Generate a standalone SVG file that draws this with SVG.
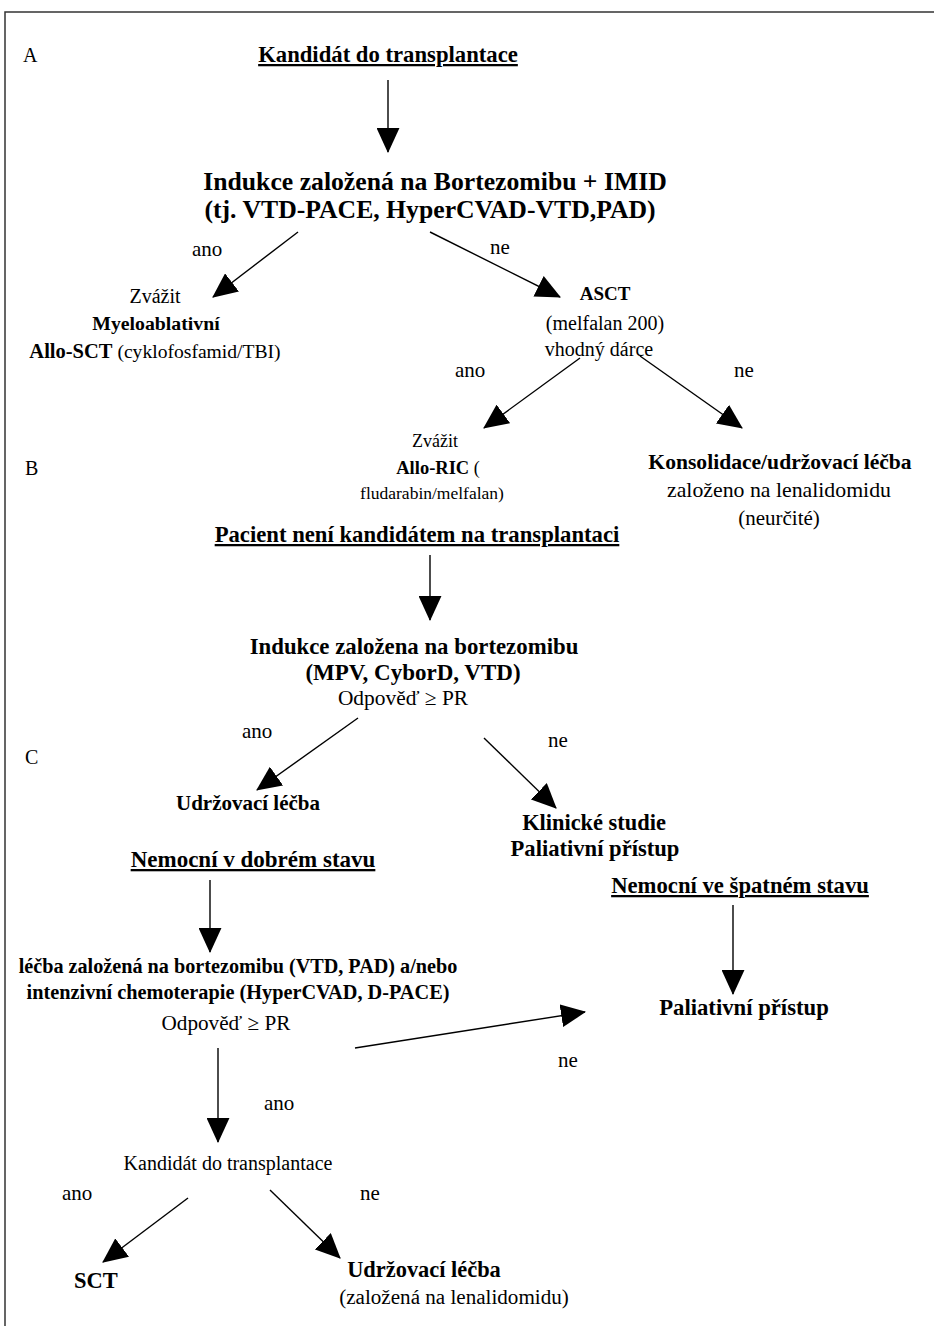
<svg xmlns="http://www.w3.org/2000/svg" width="934" height="1326" viewBox="0 0 934 1326">
<defs>
<marker id="ah" viewBox="0 0 24 22" markerWidth="25" markerHeight="23" refX="23" refY="11" orient="auto" markerUnits="userSpaceOnUse">
<path d="M0,0 L24,11 L0,22 z" fill="#000"/>
</marker>
<style>
text{font-family:"Liberation Serif","Times New Roman",serif;fill:#000;font-size:20px}
.b{font-weight:bold;font-size:21px}
.c{text-anchor:middle}
.u{text-decoration:underline}
.l{font-size:21px}
.ln{stroke:#000;stroke-width:1.4;fill:none;marker-end:url(#ah)}
</style>
</defs>
<rect width="934" height="1326" fill="#fff"/>
<path d="M5,1326 V12 H934" stroke="#333" stroke-width="1.5" fill="none"/>

<g id="labels">
<text x="23" y="62">A</text>
<text x="25" y="475">B</text>
<text x="25" y="764">C</text>
</g>

<g id="n1"><text class="b c u" x="388" y="62" style="font-size:22.7px">Kandidát do transplantace</text></g>
<g id="n2" style="font-size:25.7px">
<text class="b c" x="435" y="190" style="font-size:25.7px">Indukce založená na Bortezomibu + IMID</text>
<text class="b c" x="430" y="218" style="font-size:25.7px">(tj. VTD-PACE, HyperCVAD-VTD,PAD)</text>
</g>
<g id="n3">
<text class="c" x="155" y="303">Zvážit</text>
<text class="b c" x="156" y="330" style="font-size:19.8px">Myeloablativní</text>
<text class="c" x="155" y="358" style="font-size:19.6px"><tspan font-weight="bold" font-size="20.5">Allo-SCT</tspan> (cyklofosfamid/TBI)</text>
</g>
<g id="n4">
<text class="b c" x="605" y="300" style="font-size:19px">ASCT</text>
<text class="c" x="605" y="330">(melfalan 200)</text>
<text class="c" x="599" y="356">vhodný dárce</text>
</g>
<g id="n5" >
<text class="c" x="435" y="447" style="font-size:18px">Zvážit</text>
<text class="c" x="438" y="474" style="font-size:18px"><tspan font-weight="bold" font-size="18.5">Allo-RIC</tspan> (</text>
<text class="c" x="432" y="499" style="font-size:17.5px">fludarabin/melfalan)</text>
</g>
<g id="n6">
<text class="b c" x="780" y="469" style="font-size:21.6px">Konsolidace/udržovací léčba</text>
<text class="c" x="779" y="497" style="font-size:21.8px">založeno na lenalidomidu</text>
<text class="c" x="779" y="525" style="font-size:21px">(neurčité)</text>
</g>
<g id="n7"><text class="b c u" x="417" y="542" style="font-size:22.7px">Pacient není kandidátem na transplantaci</text></g>
<g id="n8">
<text class="b c" x="414" y="654" style="font-size:22.8px">Indukce založena na bortezomibu</text>
<text class="b c" x="413" y="680" style="font-size:23px">(MPV, CyborD, VTD)</text>
<text class="c" x="403" y="705" style="font-size:21.4px">Odpověď ≥ PR</text>
</g>
<g id="n9"><text class="b c" x="248" y="810">Udržovací léčba</text></g>
<g id="n10">
<text class="b c" x="594" y="830" style="font-size:22.4px">Klinické studie</text>
<text class="b c" x="595" y="856" style="font-size:22.6px">Paliativní přístup</text>
</g>
<g id="n11"><text class="b c u" x="253" y="867" style="font-size:23px">Nemocní v dobrém stavu </text></g>
<g id="n12"><text class="b c u" x="740" y="893" style="font-size:22.7px">Nemocní ve špatném stavu</text></g>
<g id="n13">
<text class="b c" x="238" y="973" style="font-size:20.2px">léčba založená na bortezomibu (VTD, PAD) a/nebo</text>
<text class="b c" x="238" y="999" style="font-size:20.3px">intenzivní chemoterapie (HyperCVAD, D-PACE)</text>
<text class="c" x="226" y="1030" style="font-size:21.2px">Odpověď ≥ PR</text>
</g>
<g id="n14"><text class="b c" x="744" y="1015" style="font-size:22.7px">Paliativní přístup</text></g>
<g id="n15"><text class="c" x="228" y="1170">Kandidát do transplantace</text></g>
<g id="n16"><text class="b c" x="96" y="1288" style="font-size:22.5px">SCT</text></g>
<g id="n17">
<text class="b c" x="424" y="1277" style="font-size:22.4px">Udržovací léčba</text>
<text class="c" x="454" y="1304" style="font-size:21.1px">(založená na lenalidomidu)</text>
</g>

<g id="edge-labels">
<text class="l" x="192" y="256">ano</text>
<text class="l" x="490" y="254">ne</text>
<text class="l" x="455" y="377">ano</text>
<text class="l" x="734" y="377">ne</text>
<text class="l" x="242" y="738">ano</text>
<text class="l" x="548" y="747">ne</text>
<text class="l" x="558" y="1067">ne</text>
<text class="l" x="264" y="1110">ano</text>
<text class="l" x="62" y="1200">ano</text>
<text class="l" x="360" y="1200">ne</text>
</g>

<g id="connectors">
<line class="ln" x1="388" y1="80" x2="388" y2="152"/>
<line class="ln" x1="298" y1="232" x2="213" y2="297"/>
<line class="ln" x1="430" y1="232" x2="560" y2="297"/>
<line class="ln" x1="580" y1="358" x2="484" y2="428"/>
<line class="ln" x1="640" y1="356" x2="742" y2="428"/>
<line class="ln" x1="430" y1="555" x2="430" y2="620"/>
<line class="ln" x1="358" y1="718" x2="257" y2="790"/>
<line class="ln" x1="484" y1="738" x2="556" y2="808"/>
<line class="ln" x1="210" y1="880" x2="210" y2="952"/>
<line class="ln" x1="733" y1="905" x2="733" y2="994"/>
<line class="ln" x1="355" y1="1048" x2="585" y2="1012"/>
<line class="ln" x1="218" y1="1048" x2="218" y2="1142"/>
<line class="ln" x1="188" y1="1198" x2="103" y2="1262"/>
<line class="ln" x1="270" y1="1190" x2="340" y2="1258"/>
</g>
</svg>
